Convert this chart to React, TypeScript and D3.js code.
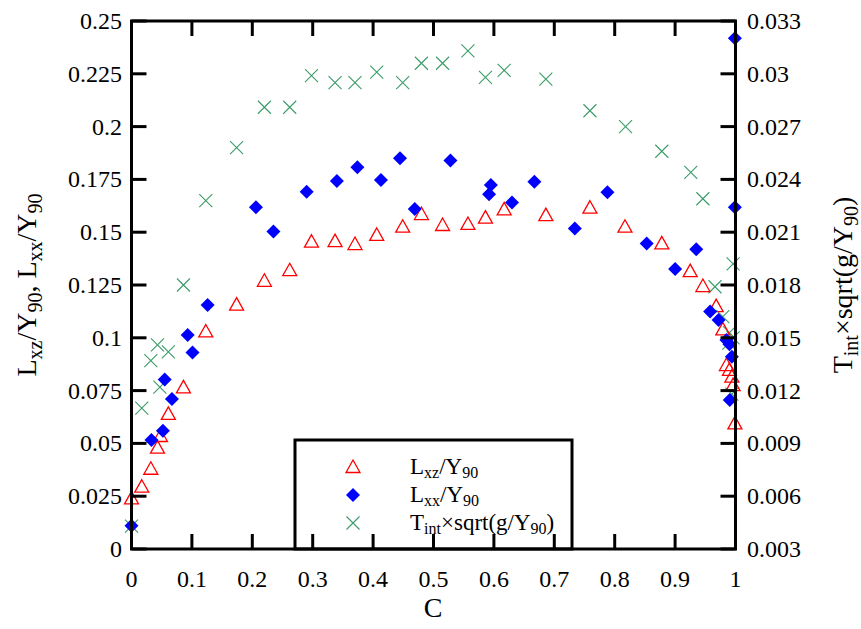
import React from "react";
import * as d3 from "d3";

const cLxz = [0, 0.017, 0.032, 0.043, 0.048, 0.061, 0.086, 0.123, 0.174, 0.22, 0.262, 0.298, 0.337, 0.37, 0.406, 0.449, 0.48, 0.515, 0.557, 0.586, 0.617, 0.686, 0.759, 0.817, 0.878, 0.925, 0.946, 0.968, 0.979, 0.985, 0.99, 0.994, 0.996, 0.999];
const vLxz = [0.024, 0.0295, 0.038, 0.048, 0.0535, 0.064, 0.0765, 0.103, 0.1157, 0.127, 0.132, 0.1455, 0.1458, 0.1444, 0.1487, 0.1526, 0.1586, 0.1534, 0.1539, 0.1569, 0.1608, 0.1581, 0.1616, 0.1526, 0.1447, 0.1316, 0.1245, 0.115, 0.104, 0.0871, 0.0848, 0.0816, 0.0776, 0.0595];

const cLxx = [0, 0.033, 0.052, 0.055, 0.067, 0.093, 0.101, 0.126, 0.206, 0.235, 0.29, 0.34, 0.374, 0.413, 0.4445, 0.469, 0.528, 0.592, 0.595, 0.63, 0.667, 0.734, 0.788, 0.853, 0.9, 0.935, 0.958, 0.972, 0.985, 0.99, 0.994, 0.9905, 0.999, 0.999];
const vLxx = [0.011, 0.0516, 0.056, 0.0803, 0.071, 0.1013, 0.093, 0.1155, 0.1618, 0.1503, 0.1692, 0.1742, 0.1807, 0.1747, 0.185, 0.161, 0.1839, 0.168, 0.1723, 0.1641, 0.1739, 0.1518, 0.1689, 0.1447, 0.1326, 0.1419, 0.1124, 0.1084, 0.099, 0.097, 0.091, 0.0705, 0.2418, 0.1618];

const cT = [0, 0.017, 0.032, 0.043, 0.047, 0.061, 0.086, 0.123, 0.174, 0.22, 0.262, 0.298, 0.337, 0.37, 0.406, 0.449, 0.48, 0.515, 0.557, 0.586, 0.617, 0.686, 0.759, 0.818, 0.878, 0.926, 0.946, 0.966, 0.979, 0.989, 0.99, 0.996, 0.996, 0.994];
const vT = [0.0043, 0.011, 0.0137, 0.0146, 0.0122, 0.0142, 0.018, 0.0228, 0.0258, 0.0281, 0.0281, 0.0299, 0.0295, 0.0295, 0.0301, 0.0295, 0.0306, 0.0306, 0.0313, 0.0298, 0.0302, 0.0297, 0.0279, 0.027, 0.0256, 0.0244, 0.0229, 0.0179, 0.0162, 0.0147, 0.0153, 0.015, 0.0192, 0.0118];

const xTicks = [0, 0.1, 0.2, 0.3, 0.4, 0.5, 0.6, 0.7, 0.8, 0.9, 1];
const yLTicks = [0, 0.025, 0.05, 0.075, 0.1, 0.125, 0.15, 0.175, 0.2, 0.225, 0.25];
const yRTicks = [0.003, 0.006, 0.009, 0.012, 0.015, 0.018, 0.021, 0.024, 0.027, 0.03, 0.033];

const W = 861, H = 629;
const L = 131.5, R = 735.5, T = 21, B = 549;
const FONT = "'Liberation Serif', 'Times New Roman', serif";
const RED = "#ff0000", BLUE = "#0000ff", GREEN = "#3a9c68";

const x = d3.scaleLinear().domain([0, 1]).range([L, R]);
const yL = d3.scaleLinear().domain([0, 0.25]).range([B, T]);
const yR = d3.scaleLinear().domain([0.003, 0.033]).range([B, T]);

const tri = (cx: number, cy: number, k: string) => (
  <path key={k} d={`M${cx},${cy - 7}L${cx + 7},${cy + 5.5}L${cx - 7},${cy + 5.5}Z`} fill="none" stroke={RED} strokeWidth={1.3} />
);
const dia = (cx: number, cy: number, k: string) => (
  <path key={k} d={`M${cx},${cy - 7}L${cx + 7},${cy}L${cx},${cy + 7}L${cx - 7},${cy}Z`} fill={BLUE} />
);
const cross = (cx: number, cy: number, k: string) => (
  <path key={k} d={`M${cx - 6.5},${cy - 6.5}L${cx + 6.5},${cy + 6.5}M${cx - 6.5},${cy + 6.5}L${cx + 6.5},${cy - 6.5}`} stroke={GREEN} strokeWidth={1.1} fill="none" />
);

export default function App() {
  const fmt = (v: number) => String(+v.toFixed(4));
  return (
    <svg width={W} height={H} style={{ position: "absolute", left: 0, top: 0, background: "#fff" }} fontFamily={FONT}>
      <rect x={0} y={0} width={W} height={H} fill="#fff" />
      {cT.map((c, i) => cross(x(c), yR(vT[i]), "t" + i))}
      {cLxz.map((c, i) => tri(x(c), yL(vLxz[i]), "z" + i))}
      {cLxx.map((c, i) => dia(x(c), yL(vLxx[i]), "x" + i))}

      <rect x={295} y={440} width={277} height={B - 440} fill="#fff" stroke="#000" strokeWidth={3} />
      {tri(353, 467, "lt")}
      {dia(353, 495, "ld")}
      {cross(353, 523, "lc")}
      <text x={410} y={474} fontSize={23}>L<tspan dy={4} fontSize={16}>xz</tspan><tspan dy={-4}>/Y</tspan><tspan dy={4} fontSize={16}>90</tspan></text>
      <text x={410} y={502} fontSize={23}>L<tspan dy={4} fontSize={16}>xx</tspan><tspan dy={-4}>/Y</tspan><tspan dy={4} fontSize={16}>90</tspan></text>
      <text x={410} y={530} fontSize={23}>T<tspan dy={4} fontSize={16}>int</tspan><tspan dy={-4}>×sqrt(g/Y</tspan><tspan dy={4} fontSize={16}>90</tspan><tspan dy={-4}>)</tspan></text>

      {xTicks.map((t, i) => (
        <g key={"xt" + i}>
          <line x1={x(t)} x2={x(t)} y1={B} y2={B - 15} stroke="#000" strokeWidth={3} />
          <line x1={x(t)} x2={x(t)} y1={T} y2={T + 15} stroke="#000" strokeWidth={3} />
          <text x={x(t)} y={579} fontSize={24} textAnchor="middle" dominantBaseline="central">{fmt(t)}</text>
        </g>
      ))}
      {yLTicks.map((t, i) => (
        <g key={"yl" + i}>
          <line x1={L} x2={L + 15} y1={yL(t)} y2={yL(t)} stroke="#000" strokeWidth={3} />
          <text x={122} y={yL(t)} fontSize={24} textAnchor="end" dominantBaseline="central">{fmt(t)}</text>
        </g>
      ))}
      {yRTicks.map((t, i) => (
        <g key={"yr" + i}>
          <line x1={R} x2={R - 15} y1={yR(t)} y2={yR(t)} stroke="#000" strokeWidth={3} />
          <text x={747} y={yR(t)} fontSize={24} textAnchor="start" dominantBaseline="central">{fmt(t)}</text>
        </g>
      ))}

      <rect x={L} y={T} width={R - L} height={B - T} fill="none" stroke="#000" strokeWidth={3} />

      <text x={433} y={607} fontSize={28} textAnchor="middle" dominantBaseline="central">C</text>
      <text transform="translate(36,285) rotate(-90)" fontSize={28} textAnchor="middle">L<tspan dy={6} fontSize={20}>xz</tspan><tspan dy={-6}>/Y</tspan><tspan dy={6} fontSize={20}>90</tspan><tspan dy={-6}>, L</tspan><tspan dy={6} fontSize={20}>xx</tspan><tspan dy={-6}>/Y</tspan><tspan dy={6} fontSize={20}>90</tspan></text>
      <text transform="translate(852,285) rotate(-90)" fontSize={28} textAnchor="middle">T<tspan dy={6} fontSize={20}>int</tspan><tspan dy={-6}>×sqrt(g/Y</tspan><tspan dy={6} fontSize={20}>90</tspan><tspan dy={-6}>)</tspan></text>
    </svg>
  );
}
